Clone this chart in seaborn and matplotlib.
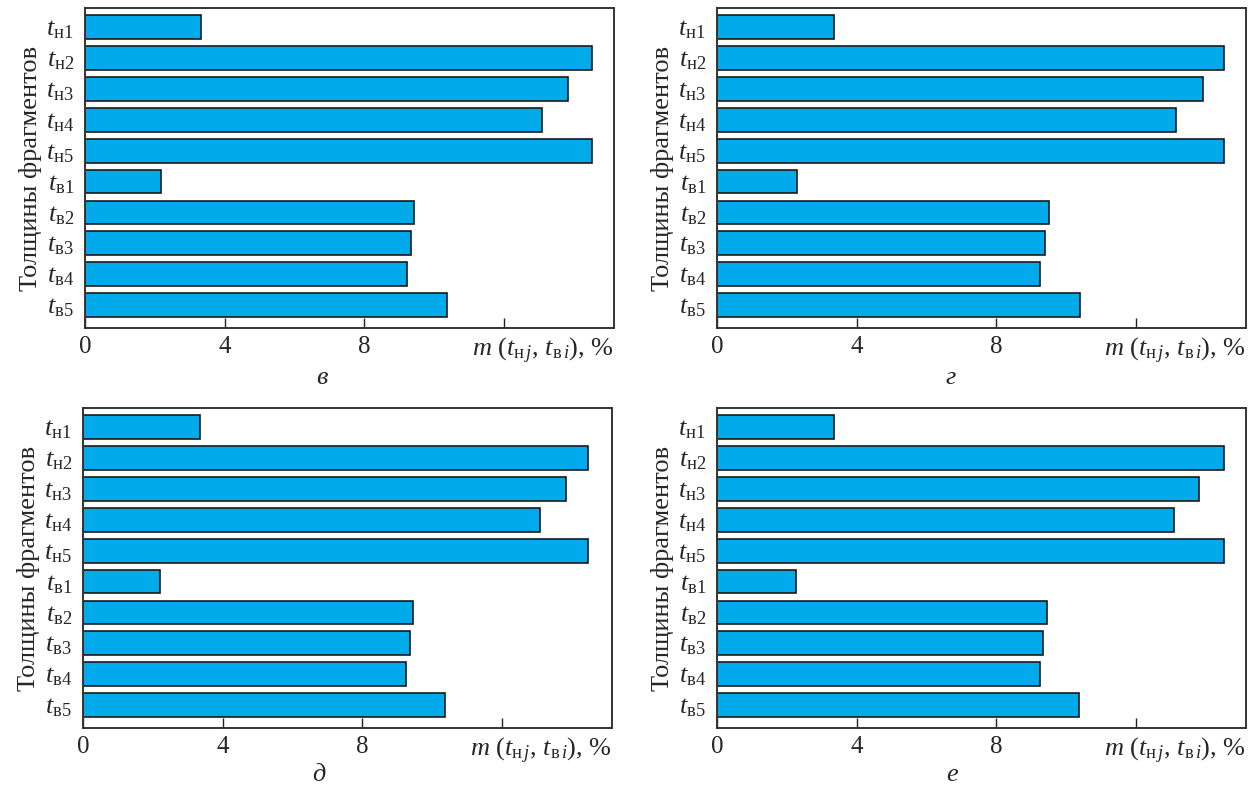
import matplotlib
matplotlib.use("Agg")
import matplotlib.pyplot as plt
import matplotlib.transforms as mtransforms
import seaborn as sns

# ---- data ----
categories = [r"$t_{\mathrm{н}1}$", r"$t_{\mathrm{н}2}$", r"$t_{\mathrm{н}3}$", r"$t_{\mathrm{н}4}$",
              r"$t_{\mathrm{н}5}$", r"$t_{\mathrm{в}1}$", r"$t_{\mathrm{в}2}$", r"$t_{\mathrm{в}3}$",
              r"$t_{\mathrm{в}4}$", r"$t_{\mathrm{в}5}$"]
values_v = [3.32, 14.52, 13.85, 13.11, 14.52, 2.19, 9.44, 9.34, 9.23, 10.36]
values_g = [3.36, 14.53, 13.93, 13.16, 14.53, 2.29, 9.51, 9.41, 9.27, 10.39]
values_d = [3.34, 14.46, 13.84, 13.11, 14.46, 2.22, 9.47, 9.36, 9.26, 10.37]
values_e = [3.36, 14.53, 13.82, 13.11, 14.53, 2.27, 9.45, 9.34, 9.25, 10.36]
panel_letters = ["в", "г", "д", "е"]
x_ticks = [0, 4, 8, 12]
x_tick_labels = ["0", "4", "8", ""]
y_axis_label = "Толщины фрагментов"
x_axis_label = r"$m$ ($t_{\mathrm{н}\,j}$, $t_{\mathrm{в}\,i}$), %"

sns.set_theme(style="white")
plt.rcParams["font.family"] = ["Liberation Serif", "DejaVu Serif"]
plt.rcParams["mathtext.fontset"] = "custom"
plt.rcParams["mathtext.rm"] = "Liberation Serif"
plt.rcParams["mathtext.it"] = "Liberation Serif:italic"
plt.rcParams["mathtext.bf"] = "Liberation Serif:bold"

BAR_COLOR = "#00AAEB"
EDGE = "#1a1a1a"
FS = 18
FS_Y = 19

fig = plt.figure(figsize=(12.58, 7.94), dpi=100)
W, H = 1258, 794
boxes = [(85, 8, 614, 328), (717, 8, 1246, 328), (83, 408, 612, 728), (717, 408, 1246, 728)]
caption_pos = [(322, 378), (951, 378), (319, 775), (952, 775)]
all_values = [values_v, values_g, values_d, values_e]

for (x0, y0, x1, y1), vals, letter, (cx, cy) in zip(boxes, all_values, panel_letters, caption_pos):
    ax = fig.add_axes([x0 / W, 1 - y1 / H, (x1 - x0) / W, (y1 - y0) / H])
    sns.barplot(x=vals, y=categories, ax=ax, color=BAR_COLOR, saturation=1,
                edgecolor=EDGE, linewidth=1.2, width=0.77, orient="h")
    ax.set_xlim(0, 15.16)
    ax.set_ylim(9.74, -0.62)
    ax.set_xticks(x_ticks)
    ax.set_xticklabels(x_tick_labels)
    ax.tick_params(axis="x", direction="in", length=7, width=1, color="#222222",
                   labelsize=FS, pad=6, bottom=True)
    ax.tick_params(axis="y", length=0, labelsize=FS_Y, pad=8, left=False)
    for s in ax.spines.values():
        s.set_visible(True)
        s.set_color("#333333")
        s.set_linewidth(1.4)
    ax.set_xlabel("")
    ax.set_ylabel(y_axis_label, fontsize=FS_Y, labelpad=3)
    off = mtransforms.offset_copy(ax.transAxes, fig=fig, x=0, y=-6, units="points")
    ax.text(1.0, 0.0, x_axis_label, transform=off, ha="right", va="top", fontsize=FS_Y)
    fig.text(cx / W, 1 - cy / H, letter, ha="center", va="center", fontsize=FS_Y,
             style="italic")

fig.savefig("out.png", dpi=100)
